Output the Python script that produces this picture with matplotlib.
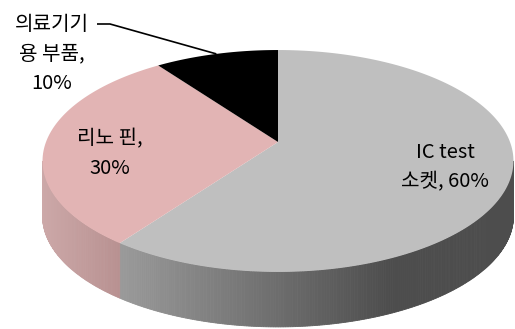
import numpy as np
import matplotlib
matplotlib.use("Agg")
import matplotlib.pyplot as plt
from matplotlib.patches import Polygon

plt.rcParams['font.family'] = ['Noto Sans CJK KR', 'DejaVu Sans']

# ---- data ----
categories = ["IC test\n소켓", "리노 핀", "의료기기\n용 부품"]
values = [60, 30, 10]
top_colors = ["#bfbfbf", "#e2b4b4", "#000000"]
side_start = [(154, 154, 154), (204, 168, 168), (20, 20, 20)]
side_end = [(77, 77, 77), (184, 145, 145), (20, 20, 20)]
side_range = [(120, 390), (42, 120), (0, 1)]

# ---- layout (pixel space) ----
W, H = 515, 329
cx, cy = 278, 142        # pie centre on screen
A, B, p = 232, 107.7, 0.171   # horizontal radius, vertical radius, perspective
depth = 55

fig = plt.figure(figsize=(W / 100, H / 100), dpi=100)
ax = fig.add_axes([0, 0, 1, 1])
ax.set_xlim(0, W)
ax.set_ylim(H, 0)
ax.axis('off')


def proj(theta_deg, dy=0.0):
    t = np.radians(theta_deg)
    d = 1 + p * np.sin(t)
    return cx + A * np.cos(t) / d, cy - B * np.sin(t) / d + dy


fracs = np.array(values, dtype=float) / sum(values)
starts = 90 - 360 * np.concatenate([[0], np.cumsum(fracs)[:-1]])
ends = starts - 360 * fracs

vis_right = -np.degrees(np.arcsin(p))
vis_left = -180 + np.degrees(np.arcsin(p))

# sides (front only)
for i in range(len(values)):
    s, e = starts[i], ends[i]
    for shift in (0, -360, 360):
        lo = max(e + shift, vis_left)
        hi = min(s + shift, vis_right)
        if hi <= lo:
            continue
        n = max(int((hi - lo) * 2), 2)
        th = np.linspace(hi, lo, n + 1)
        x0r, x1r = side_range[i]
        for k in range(n):
            t0, t1 = th[k], th[k + 1]
            xa, ya = proj(t0)
            xb, yb = proj(t1)
            xm = (xa + xb) / 2
            f = np.clip((xm - x0r) / (x1r - x0r), 0, 1)
            c = tuple((np.array(side_start[i]) * (1 - f) + np.array(side_end[i]) * f) / 255)
            poly = Polygon([(xa, ya), (xb, yb), (xb, yb + depth), (xa, ya + depth)],
                           closed=True, facecolor=c, edgecolor=c, linewidth=0.6)
            ax.add_patch(poly)

# tops
for i in range(len(values)):
    th = np.linspace(starts[i], ends[i], 200)
    xs, ys = proj(th)
    pts = [(cx, cy)] + list(zip(xs, ys))
    ax.add_patch(Polygon(pts, closed=True, facecolor=top_colors[i],
                         edgecolor='none', linewidth=0))

# labels
fs = 14.5
ls = 1.55
ax.text(445, 167, f"{categories[0]}, {values[0]}%", ha='center', va='center',
        fontsize=fs, color='#000000', linespacing=ls)
ax.text(110, 154, f"{categories[1]},\n{values[1]}%", ha='center', va='center',
        fontsize=fs, color='#000000', linespacing=ls)
ax.text(52, 54, f"{categories[2]},\n{values[2]}%", ha='center', va='center',
        fontsize=fs, color='#000000', linespacing=ls)

# leader line for small slice
mid = (starts[2] + ends[2]) / 2
ex, ey = proj(mid)
ax.plot([97, 110, ex], [24, 24, ey], color='black', linewidth=1.2,
        solid_capstyle='butt')

fig.savefig("out.png", dpi=100)
